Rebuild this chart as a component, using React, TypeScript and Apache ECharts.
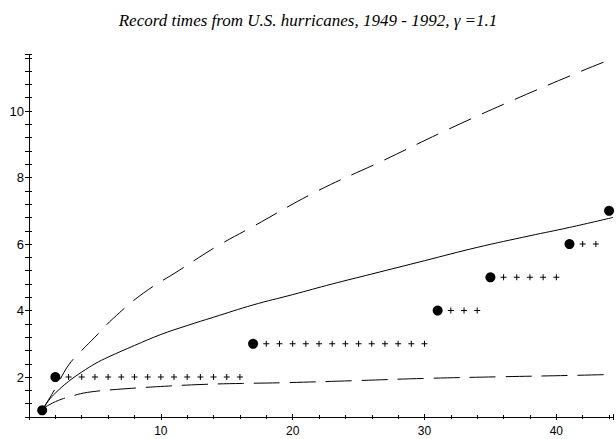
import React, { useEffect, useRef } from "react";
import * as echarts from "echarts";

const TITLE = "Record times from U.S. hurricanes, 1949 - 1992, γ =1.1";

// record points (filled dots)
const recordX = [1, 2, 17, 31, 35, 41, 44];
const recordY = [1, 2, 3, 4, 5, 6, 7];

// non-record years (plus markers)
const plusX = [3, 4, 5, 6, 7, 8, 9, 10, 11, 12, 13, 14, 15, 16,
  18, 19, 20, 21, 22, 23, 24, 25, 26, 27, 28, 29, 30,
  32, 33, 34,
  36, 37, 38, 39, 40,
  42, 43];
const plusY = [2, 2, 2, 2, 2, 2, 2, 2, 2, 2, 2, 2, 2, 2,
  3, 3, 3, 3, 3, 3, 3, 3, 3, 3, 3, 3, 3,
  4, 4, 4,
  5, 5, 5, 5, 5,
  6, 6];

// expected curve (solid)
const meanX = [1, 1.5, 2, 3, 4, 5, 6, 8, 10, 12, 14, 17, 20, 23, 26, 30, 34, 38, 41, 44.3];
const meanY = [1, 1.3, 1.52, 1.87, 2.15, 2.4, 2.6, 2.95, 3.28, 3.55, 3.8, 4.17, 4.48, 4.8, 5.1, 5.5, 5.9, 6.25, 6.5, 6.8];

// upper bound (dashed)
const upperX = [1, 1.5, 2, 3, 4, 5, 6.4, 8.66, 11.43, 14.2, 17, 21.75, 26.8, 31.8, 36.85, 41.9, 44.3];
const upperY = [1, 1.33, 1.66, 2.36, 2.8, 3.2, 3.77, 4.52, 5.22, 5.92, 6.53, 7.57, 8.5, 9.45, 10.35, 11.2, 11.58];

// lower bound (dashed)
const lowerX = [1, 1.25, 1.6, 2, 2.5, 3.13, 3.9, 5, 6.65, 9.67, 13.2, 16.2, 19.2, 24.5, 30, 35.8, 41.1, 44.3];
const lowerY = [1, 1.1, 1.18, 1.26, 1.34, 1.41, 1.5, 1.57, 1.63, 1.71, 1.78, 1.81, 1.83, 1.89, 1.96, 2.01, 2.05, 2.08];

const X_MIN = 0;
const X_MAX = 44.3;
const Y_MIN = 0.8;
const Y_MAX = 11.7;

const zip = (xs: number[], ys: number[]) => xs.map((x, i) => [x, ys[i]]);

const LABEL_FONT = "Liberation Sans";

export default function App() {
  const ref = useRef<HTMLDivElement>(null);

  useEffect(() => {
    if (!ref.current) return;
    const chart = echarts.init(ref.current, null, { renderer: "svg" });

    const xBase = {
      type: "value",
      min: X_MIN,
      max: X_MAX,
      position: "bottom",
      offset: 0,
      splitLine: { show: false },
      axisLine: { show: false, onZero: false },
      axisLabel: { show: false },
    };
    const yBase = {
      type: "value",
      min: Y_MIN,
      max: Y_MAX,
      position: "left",
      offset: 0,
      interval: 0.4,
      splitLine: { show: false },
      axisLine: { show: false, onZero: false },
      axisLabel: { show: false },
    };

    const lineCommon = {
      type: "line",
      smooth: 0.4,
      showSymbol: false,
      silent: true,
    };

    const option = {
      animation: false,
      backgroundColor: "#ffffff",
      title: {
        text: TITLE,
        left: "center",
        top: 7,
        textStyle: {
          fontFamily: "Liberation Serif",
          fontStyle: "italic",
          fontWeight: "normal",
          fontSize: 17,
          color: "#000",
        },
      },
      grid: { left: 29, right: 0, top: 54.5, bottom: 22, containLabel: false },
      xAxis: [
        {
          ...xBase,
          interval: 2,
          axisLine: { show: true, onZero: false, lineStyle: { color: "#000", width: 1 } },
          axisTick: { show: true, inside: false, length: 2, lineStyle: { color: "#000" } },
          axisLabel: {
            show: true,
            margin: 8,
            fontFamily: LABEL_FONT,
            fontSize: 12,
            color: "#000",
            formatter: (v: number) => (v > 0 && Math.abs(v % 10) < 1e-6 ? String(Math.round(v)) : ""),
          },
        },
        { ...xBase, interval: 2, axisTick: { show: true, inside: true, length: 2, lineStyle: { color: "#000" } } },
        { ...xBase, interval: 10, axisTick: { show: true, inside: false, length: 3, lineStyle: { color: "#000" } } },
        { ...xBase, interval: 10, axisTick: { show: true, inside: true, length: 3, lineStyle: { color: "#000" } } },
      ],
      yAxis: [
        {
          ...yBase,
          axisLine: { show: true, onZero: false, lineStyle: { color: "#000", width: 1 } },
          axisTick: { show: true, inside: false, length: 4, lineStyle: { color: "#000" } },
          axisLabel: {
            show: true,
            margin: 5,
            fontFamily: LABEL_FONT,
            fontSize: 13,
            color: "#000",
            formatter: (v: number) => {
              const r = Math.round(v);
              return Math.abs(v - r) < 1e-6 && r % 2 === 0 && r >= 2 ? String(r) : "";
            },
          },
        },
        { ...yBase, axisTick: { show: true, inside: true, length: 3, lineStyle: { color: "#000" } } },
      ],
      series: [
        {
          ...lineCommon,
          data: zip(meanX, meanY),
          lineStyle: { color: "#000", width: 1 },
        },
        {
          ...lineCommon,
          data: zip(upperX, upperY),
          lineStyle: { color: "#000", width: 1, type: [24, 12] },
        },
        {
          ...lineCommon,
          data: zip(lowerX, lowerY),
          lineStyle: { color: "#000", width: 1, type: [26, 10] },
        },
        {
          type: "scatter",
          data: zip(plusX, plusY),
          symbol: "path://M2.5,0H3.5V6H2.5Z M0,2.5H6V3.5H0Z",
          symbolSize: 6,
          itemStyle: { color: "#000", opacity: 1 },
          silent: true,
        },
        {
          type: "scatter",
          data: zip(recordX, recordY),
          symbol: "circle",
          symbolSize: 10,
          itemStyle: { color: "#000", opacity: 1 },
          silent: true,
        },
      ],
    };

    chart.setOption(option as any);
    return () => chart.dispose();
  }, []);

  return (
    <div
      ref={ref}
      style={{ position: "fixed", left: 0, top: 0, width: 616, height: 439 }}
    />
  );
}
